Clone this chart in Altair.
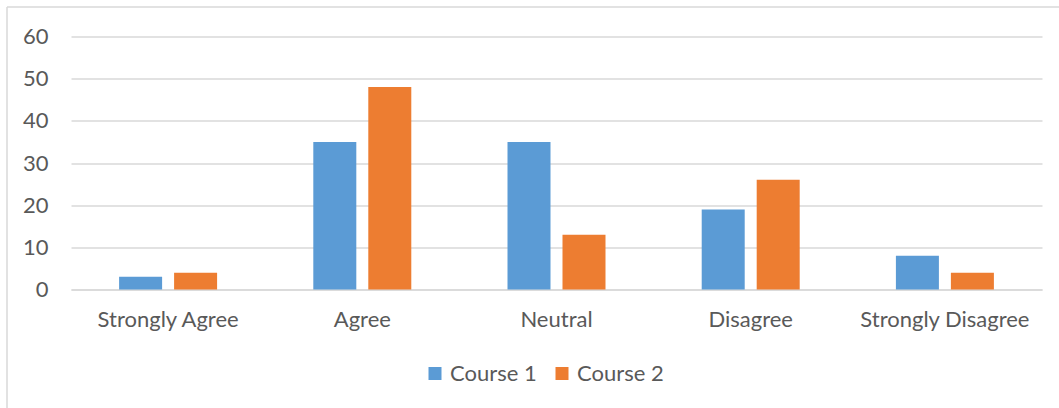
import altair as alt
import pandas as pd

categories = ["Strongly Agree", "Agree", "Neutral", "Disagree", "Strongly Disagree"]
course1 = [3, 35, 35, 19, 8]
course2 = [4, 48, 13, 26, 4]
series = ["Course 1", "Course 2"]
colors = ["#5B9BD5", "#ED7D31"]

rows = []
for c, v1, v2 in zip(categories, course1, course2):
    rows.append({"category": c, "series": series[0], "value": v1})
    rows.append({"category": c, "series": series[1], "value": v2})
df = pd.DataFrame(rows)

FONT = "Lato"
TXT = "#595959"
GRID = "#D9D9D9"
FS = 22

W, H = 971, 253
L, T = 71, 36.5

bars = alt.Chart(df).mark_bar().encode(
    x=alt.X("category:N", sort=categories, title=None,
            scale=alt.Scale(paddingInner=0.4954, paddingOuter=0.2477),
            axis=alt.Axis(labelAngle=0, ticks=False, domain=True, domainColor=GRID,
                          domainWidth=1.5, labelPadding=20, labelFontSize=FS,
                          labelColor=TXT, labelFont=FONT, grid=False)),
    xOffset=alt.XOffset("series:N", sort=series, scale=alt.Scale(paddingInner=0.218)),
    y=alt.Y("value:Q", title=None,
            scale=alt.Scale(domain=[0, 60], nice=False),
            axis=alt.Axis(values=[0, 10, 20, 30, 40, 50, 60], ticks=False, domain=False,
                          gridColor=GRID, gridWidth=1.5, labelPadding=23,
                          labelFontSize=FS, labelColor=TXT, labelFont=FONT)),
    color=alt.Color("series:N", sort=series,
                    scale=alt.Scale(domain=series, range=colors),
                    legend=alt.Legend(title=None, orient="none", direction="horizontal",
                                      legendX=353, legendY=326, symbolType="square",
                                      symbolSize=169, symbolStrokeWidth=0,
                                      labelFontSize=FS, labelColor=TXT, labelFont=FONT,
                                      columnPadding=14, labelOffset=4)),
)

border_top = alt.Chart(pd.DataFrame({"a": [0]})).mark_rule(color=GRID, strokeWidth=1.5).encode(
    x=alt.value(7 - L), x2=alt.value(1059 - L), y=alt.value(7 - T))
border_left = alt.Chart(pd.DataFrame({"a": [0]})).mark_rule(color=GRID, strokeWidth=1.5).encode(
    x=alt.value(7 - L), y=alt.value(7 - T), y2=alt.value(408 - T))

chart = alt.layer(bars, border_top, border_left).properties(
    width=W, height=H,
    padding={"left": L, "top": T, "right": 1059 - L - W, "bottom": 408 - T - H},
    autosize=alt.AutoSizeParams(type="none"),
    background="white",
).configure_view(stroke=None)

chart.save("out.html", embed_options={"renderer": "svg", "actions": False})
